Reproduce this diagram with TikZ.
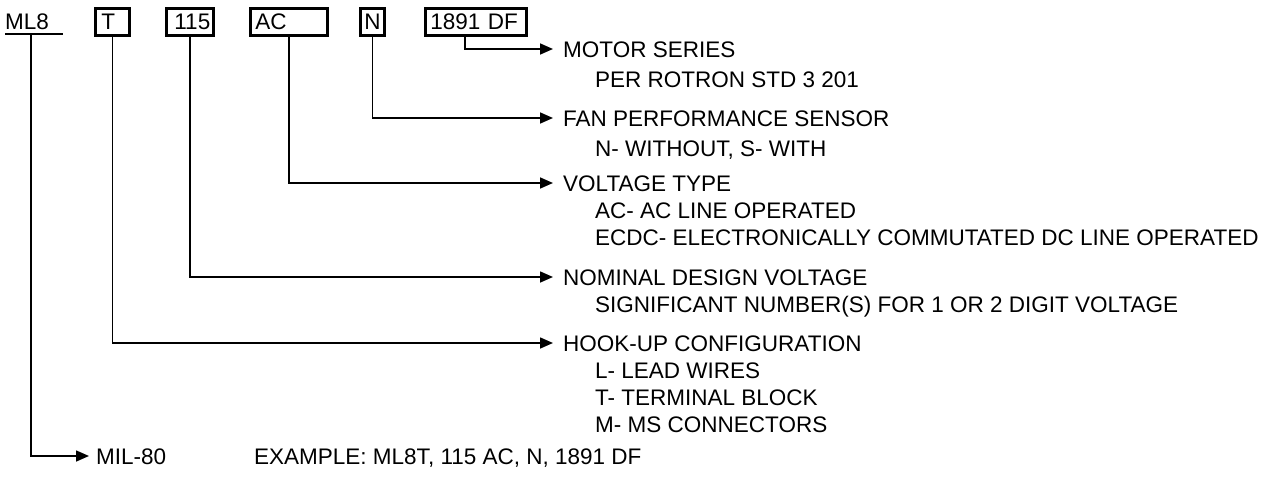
\documentclass[tikz,border=0pt]{standalone}
\usepackage{fontspec}
\setmainfont{Liberation Sans}
\usetikzlibrary{arrows.meta}
\begin{document}
\begin{tikzpicture}[x=1pt,y=-1pt,
  every node/.style={font=\fontsize{22.5}{27}\selectfont, text height=16pt, text depth=0pt},
  codebox/.style={draw, line width=2.8pt, anchor=north west, minimum height=27pt, inner sep=0pt, align=left},
  lbl/.style={anchor=west, inner sep=0pt},
  conn/.style={line width=1.6pt},
  arr/.style={line width=1.6pt, -{Triangle[length=13pt,width=11pt]}}
]
\useasboundingbox (0,0) rectangle (1278,477);
% code fields
\node[lbl] (ml8) at (5,21) {ML8};
\coordinate (ul1) at (5,34);
\coordinate (ul2) at (63,34);
\draw[conn] (ul1) -- (ul2);
\coordinate (mltop) at (31,34);
\node[codebox, minimum width=34pt, text width=30pt] (bT) at (94,7) {\hspace*{4pt}T};
\node[codebox, minimum width=47pt, text width=43pt] (b115) at (165,7) {\hspace*{6pt}115};
\node[codebox, minimum width=77pt, text width=73pt] (bAC) at (249,7) {\hspace*{3pt}AC};
\node[codebox, minimum width=24pt, text width=20pt] (bN) at (359,7) {\hspace*{2pt}N};
\node[codebox, minimum width=101pt, text width=97pt] (bDF) at (424,7) {\hspace*{3pt}1891 DF};
% descriptions
\node[lbl] (motor) at (563,49) {MOTOR SERIES};
\node[lbl] at (595,79) {PER ROTRON STD 3 201};
\node[lbl] (fan) at (563,118) {FAN PERFORMANCE SENSOR};
\node[lbl] at (595,148) {N- WITHOUT, S- WITH};
\node[lbl] (volt) at (563,183) {VOLTAGE TYPE};
\node[lbl] at (595,210) {AC- AC LINE OPERATED};
\node[lbl] at (595,237) {ECDC- ELECTRONICALLY COMMUTATED DC LINE OPERATED};
\node[lbl] (nom) at (563,277) {NOMINAL DESIGN VOLTAGE};
\node[lbl] at (595,304) {SIGNIFICANT NUMBER(S) FOR 1 OR 2 DIGIT VOLTAGE};
\node[lbl] (hook) at (563,343) {HOOK-UP CONFIGURATION};
\node[lbl] at (595,370) {L- LEAD WIRES};
\node[lbl] at (595,397) {T- TERMINAL BLOCK};
\node[lbl] at (595,424) {M- MS CONNECTORS};
\node[lbl] (mil) at (96,456) {MIL-80};
\node[lbl] (ex) at (254,456) {EXAMPLE: ML8T, 115 AC, N, 1891 DF};
% connectors
\draw[arr] ([xshift=-11pt]bDF.south) |- ([xshift=-10pt]motor.west);
\draw[arr] (bN.south) |- ([xshift=-10pt]fan.west);
\draw[arr] (bAC.south) |- ([xshift=-10pt]volt.west);
\draw[arr] (b115.south) |- ([xshift=-10pt]nom.west);
\draw[arr] (bT.south) |- ([xshift=-10pt]hook.west);
\draw[arr] (mltop) |- ([xshift=-7pt]mil.west);
\end{tikzpicture}
\end{document}
